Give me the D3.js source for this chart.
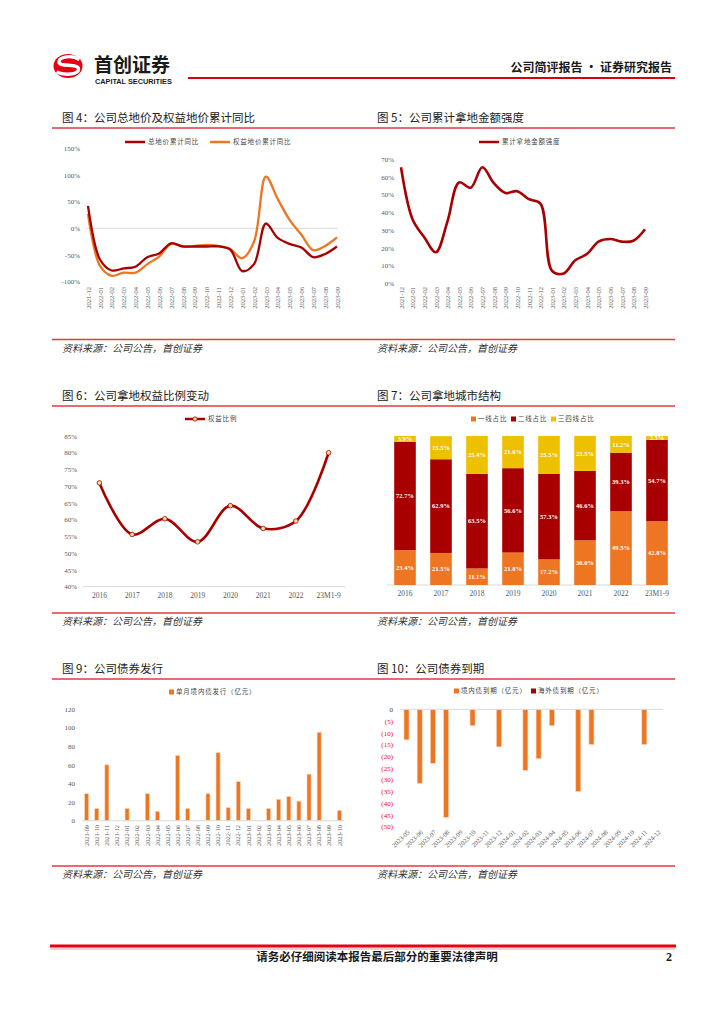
<!DOCTYPE html>
<html lang="zh">
<head>
<meta charset="UTF-8">
<title>首创证券 公司简评报告</title>
<script src="https://d3js.org/d3.v7.min.js"></script>
<style>
    body { margin: 0; background: #fff; }
    .num { font-family: "Liberation Serif", serif; fill: #595959; }
    .cn { font-family: "Noto Sans CJK SC", sans-serif; }
</style>
</head>
<body>
<script>
    // ---- data ----
    var months4 = ['2021-12', '2022-01', '2022-02', '2022-03', '2022-04', '2022-05', '2022-06',
                   '2022-07', '2022-08', '2022-09', '2022-10', '2022-11', '2022-12', '2023-01',
                   '2023-02', '2023-03', '2023-04', '2023-05', '2023-06', '2023-07', '2023-08', '2023-09']
    var totalYoY  = [42, -58, -79, -75, -72, -54, -47, -28, -34, -34, -34, -34, -40, -80, -67, 9, -18, -29, -36, -54, -48, -34]
    var equityYoY = [27, -70, -89, -83, -83, -67, -53, -29, -34, -33, -31, -33, -39, -56, -25, 97, 55, 16, -12, -41, -33, -17]
    var landIntensity = [65.5, 36, 26, 17.5, 35, 57, 54, 65.5, 56.5, 51, 52, 47.5, 45, 7, 5.5, 13, 16.5, 23.5, 25, 23.5, 24, 30.5]

    var years = ['2016', '2017', '2018', '2019', '2020', '2021', '2022', '23M1-9']
    var equityRatio = [71, 55.6, 60.3, 53.4, 64.2, 57.4, 59.6, 80]
    var tier1 = [23.4, 21.5, 11.1, 21.8, 17.2, 30.0, 49.5, 42.8]
    var tier2 = [72.7, 62.9, 63.5, 56.6, 57.3, 46.6, 39.3, 54.7]
    var tier34 = [3.9, 15.5, 25.4, 21.6, 25.5, 23.5, 11.2, 2.5]

    var months9 = ['2021-09', '2021-10', '2021-11', '2021-12', '2022-01', '2022-02', '2022-03', '2022-04',
                   '2022-05', '2022-06', '2022-07', '2022-08', '2022-09', '2022-10', '2022-11', '2022-12',
                   '2023-01', '2023-02', '2023-03', '2023-04', '2023-05', '2023-06', '2023-07', '2023-08',
                   '2023-09', '2023-10']
    var bondIssue = [29, 13, 60, 0, 13, 0, 29, 10, 0, 70, 13, 0, 29, 73, 14, 42, 13, 0, 13, 23, 26, 21, 50, 95, 0, 11]

    var months10 = ['2023-05', '2023-06', '2023-07', '2023-08', '2023-09', '2023-10', '2023-11', '2023-12',
                    '2024-01', '2024-02', '2024-03', '2024-04', '2024-05', '2024-06', '2024-07', '2024-08',
                    '2024-09', '2024-10', '2024-11', '2024-12']
    var domesticDue = [-13, -31.5, -23, -46, 0, -7, 0, -16, 0, -26, -21, -7, 0, -35, -15, 0, 0, 0, -15, 0]
    var overseasDue = [0, 0, 0, 0, 0, 0, 0, 0, 0, 0, 0, 0, 0, 0, 0, 0, 0, 0, 0, 0]

    var w = 724, h = 1024
    var darkRed = '#a80000', orange = '#ee7623', yellow = '#edc000'
    var ruleRed = '#e5393f', gridGray = '#d9d9d9'

    var svg = d3.select('body')
                .append('svg')
                .attr('width', w)
                .attr('height', h)

    // ---- page header ----
    svg.append('ellipse').attr('cx', 68).attr('cy', 66).attr('rx', 14.5).attr('ry', 12).attr('fill', '#e60012')
    svg.append('path')
        .attr('d', 'M79.5,59.5 C72,54.5 59,56.5 59,62 C59,67.5 78.5,63 78.5,69 C78.5,75 64,75.5 56.5,72')
        .attr('fill', 'none').attr('stroke', '#fff').attr('stroke-width', 3.4)
    svg.append('text').attr('class', 'cn').attr('x', 94).attr('y', 71.5)
        .attr('font-size', 19).attr('font-weight', 700).attr('fill', '#1a1a1a').text('首创证券')
    svg.append('text').attr('x', 95).attr('y', 84).style('font-family', 'Liberation Sans')
        .attr('font-size', 7.3).attr('font-weight', 700).attr('fill', '#1a1a1a').text('CAPITAL SECURITIES')
    svg.append('line').attr('x1', 188).attr('x2', 675).attr('y1', 78).attr('y2', 78)
        .attr('stroke', '#d7000f').attr('stroke-width', 2)
    svg.append('text').attr('class', 'cn').attr('x', 672).attr('y', 72).attr('text-anchor', 'end')
        .attr('font-size', 12).attr('font-weight', 700).attr('fill', '#1a1a1a').text('公司简评报告 · 证券研究报告')

    // ---- section titles and source lines ----
    function titleRow(y, left, right) {
        svg.append('text').attr('class', 'cn').attr('x', 62).attr('y', y + 4).attr('font-size', 11.5)
            .attr('fill', '#222').text(left)
        svg.append('text').attr('class', 'cn').attr('x', 377).attr('y', y + 4).attr('font-size', 11.5)
            .attr('fill', '#222').text(right)
        svg.append('line').attr('x1', 52).attr('x2', 675).attr('y1', y + 10).attr('y2', y + 10)
            .attr('stroke', ruleRed).attr('stroke-width', 1.3)
    }
    function sourceRow(y) {
        svg.append('line').attr('x1', 52).attr('x2', 675).attr('y1', y).attr('y2', y)
            .attr('stroke', ruleRed).attr('stroke-width', 1.3)
        ;[62, 377].forEach(function (x) {
            svg.append('text').attr('class', 'cn').attr('x', x).attr('y', y + 12).attr('font-size', 10)
                .attr('font-style', 'italic').attr('fill', '#333').text('资料来源：公司公告，首创证券')
        })
    }
    titleRow(118, '图 4：公司总地价及权益地价累计同比', '图 5：公司累计拿地金额强度')
    sourceRow(339.5)
    titleRow(396, '图 6：公司拿地权益比例变动', '图 7：公司拿地城市结构')
    sourceRow(613)
    titleRow(669, '图 9：公司债券发行', '图 10：公司债券到期')
    sourceRow(866)

    // footer
    svg.append('line').attr('x1', 50).attr('x2', 676).attr('y1', 946).attr('y2', 946)
        .attr('stroke', '#e60012').attr('stroke-width', 3)
    svg.append('line').attr('x1', 50).attr('x2', 676).attr('y1', 949).attr('y2', 949)
        .attr('stroke', '#f2a0a0').attr('stroke-width', 1)
    svg.append('text').attr('class', 'cn').attr('x', 377).attr('y', 961).attr('text-anchor', 'middle')
        .attr('font-size', 11.5).attr('font-weight', 700).attr('fill', '#1a1a1a')
        .text('请务必仔细阅读本报告最后部分的重要法律声明')
    svg.append('text').attr('x', 672).attr('y', 961).attr('text-anchor', 'end').style('font-family', 'Liberation Serif')
        .attr('font-size', 12).attr('font-weight', 700).attr('fill', '#1a1a1a').text('2')

    // ---- helpers ----
    function styleAxis(g, size) {
        g.select('.domain').remove()
        g.selectAll('text').attr('class', 'num').attr('font-size', size || 7)
    }
    function verticalLabels(g) {
        g.selectAll('text')
            .attr('x', 0).attr('y', 0).attr('dy', '0.35em')
            .attr('transform', 'rotate(-90)')
            .attr('text-anchor', 'end')
    }
    function legendLine(x, y, color, label, marker) {
        svg.append('line').attr('x1', x).attr('x2', x + 20).attr('y1', y).attr('y2', y)
            .attr('stroke', color).attr('stroke-width', 2.5)
        if (marker) {
            svg.append('circle').attr('cx', x + 10).attr('cy', y).attr('r', 2.2)
                .attr('fill', '#fcdf9b').attr('stroke', color).attr('stroke-width', 0.8)
        }
        svg.append('text').attr('class', 'cn').attr('x', x + 23).attr('y', y + 2.3).attr('font-size', 6.5)
            .attr('letter-spacing', 0.8).attr('fill', '#444').text(label)
    }
    function legendBox(x, y, color, label) {
        svg.append('rect').attr('x', x).attr('y', y - 2.5).attr('width', 5).attr('height', 5).attr('fill', color)
        svg.append('text').attr('class', 'cn').attr('x', x + 7).attr('y', y + 2.3).attr('font-size', 6.5)
            .attr('letter-spacing', 0.8).attr('fill', '#444').text(label)
    }
    var pct = function (d) { return d + '%' }

    // ---- 图4 ----
    var x4 = d3.scalePoint().domain(months4).range([88, 337])
    var y4 = d3.scaleLinear().domain([-100, 150]).range([281.7, 148.3])

    svg.append('line').attr('x1', 86).attr('x2', 338).attr('y1', y4(0)).attr('y2', y4(0))
        .attr('stroke', gridGray).attr('stroke-width', 1)
    svg.append('g').attr('transform', 'translate(83,0)')
        .call(d3.axisLeft(y4).tickValues([-100, -50, 0, 50, 100, 150]).tickSize(0).tickFormat(pct))
        .call(styleAxis)
    svg.append('g').attr('transform', 'translate(0,287)')
        .call(d3.axisBottom(x4).tickSize(0))
        .call(styleAxis, 6.5).call(verticalLabels)

    var line4 = d3.line()
                  .x(function (d, i) { return x4(months4[i]) })
                  .y(function (d) { return y4(d) })
                  .curve(d3.curveCatmullRom.alpha(0.5))
    svg.append('path').attr('d', line4(equityYoY)).attr('fill', 'none').attr('stroke', orange).attr('stroke-width', 2.3)
    svg.append('path').attr('d', line4(totalYoY)).attr('fill', 'none').attr('stroke', darkRed).attr('stroke-width', 2.3)
    legendLine(125, 142, darkRed, '总地价累计同比')
    legendLine(210, 142, orange, '权益地价累计同比')

    // ---- 图5 ----
    var x5 = d3.scalePoint().domain(months4).range([401, 645])
    var y5 = d3.scaleLinear().domain([0, 70]).range([283.3, 159.3])

    svg.append('g').attr('transform', 'translate(397,0)')
        .call(d3.axisLeft(y5).tickValues(d3.range(0, 71, 10)).tickSize(0).tickFormat(pct))
        .call(styleAxis)
    svg.append('g').attr('transform', 'translate(0,287)')
        .call(d3.axisBottom(x5).tickSize(0))
        .call(styleAxis, 6.5).call(verticalLabels)

    var line5 = d3.line()
                  .x(function (d, i) { return x5(months4[i]) })
                  .y(function (d) { return y5(d) })
                  .curve(d3.curveCatmullRom.alpha(0.5))
    svg.append('path').attr('d', line5(landIntensity)).attr('fill', 'none').attr('stroke', darkRed).attr('stroke-width', 2.6)
    legendLine(479, 142, darkRed, '累计拿地金额强度')

    // ---- 图6 ----
    var x6 = d3.scaleBand().domain(years).range([83, 345])
    var y6 = d3.scaleLinear().domain([40, 85]).range([586.7, 436])

    svg.append('line').attr('x1', 83).attr('x2', 345).attr('y1', y6(40)).attr('y2', y6(40))
        .attr('stroke', gridGray).attr('stroke-width', 1)
    svg.append('g').attr('transform', 'translate(80,0)')
        .call(d3.axisLeft(y6).tickValues(d3.range(40, 86, 5)).tickSize(0).tickFormat(pct))
        .call(styleAxis)
    svg.append('g').attr('transform', 'translate(0,586.7)')
        .call(d3.axisBottom(x6).tickSize(0).tickPadding(6))
        .call(styleAxis, 7.5)

    var cx6 = function (d, i) { return x6(years[i]) + x6.bandwidth() / 2 }
    var line6 = d3.line().x(cx6).y(function (d) { return y6(d) }).curve(d3.curveCatmullRom.alpha(0.5))
    svg.append('path').attr('d', line6(equityRatio)).attr('fill', 'none').attr('stroke', darkRed).attr('stroke-width', 2.6)
    svg.selectAll('.dot6')
        .data(equityRatio)
        .enter()
        .append('circle')
        .attr('class', 'dot6')
        .attr('cx', cx6)
        .attr('cy', function (d) { return y6(d) })
        .attr('r', 2.3)
        .attr('fill', '#fcdf9b')
        .attr('stroke', darkRed)
        .attr('stroke-width', 0.8)
    legendLine(185, 419, darkRed, '权益比例', true)

    // ---- 图7 ----
    var rows7 = years.map(function (y, i) { return { year: y, t1: tier1[i], t2: tier2[i], t34: tier34[i] } })
    var stack7 = d3.stack().keys(['t1', 't2', 't34'])(rows7)
    var colors7 = { t1: orange, t2: darkRed, t34: yellow }
    var x7 = d3.scaleBand().domain(years).range([387, 675]).paddingInner(0.4).paddingOuter(0.2)
    var y7 = d3.scaleLinear().domain([0, 100]).range([585, 436])

    svg.append('line').attr('x1', 387).attr('x2', 668).attr('y1', 585).attr('y2', 585)
        .attr('stroke', gridGray).attr('stroke-width', 1)
    svg.append('g').attr('transform', 'translate(0,585)')
        .call(d3.axisBottom(x7).tickSize(0).tickPadding(6))
        .call(styleAxis, 7.5)

    var layers7 = svg.selectAll('.layer7')
        .data(stack7)
        .enter()
        .append('g')
        .attr('class', 'layer7')
        .attr('fill', function (s) { return colors7[s.key] })
    layers7.selectAll('rect')
        .data(function (s) { return s })
        .enter()
        .append('rect')
        .attr('x', function (d) { return x7(d.data.year) })
        .attr('y', function (d) { return y7(d[1]) })
        .attr('width', x7.bandwidth())
        .attr('height', function (d) { return y7(d[0]) - y7(d[1]) })
    layers7.selectAll('text')
        .data(function (s) { return s.map(function (d) { return { d: d, key: s.key } }) })
        .enter()
        .append('text')
        .attr('x', function (o) { return x7(o.d.data.year) + x7.bandwidth() / 2 })
        .attr('y', function (o) { return (y7(o.d[0]) + y7(o.d[1])) / 2 + 2.2 })
        .attr('text-anchor', 'middle')
        .style('font-family', 'Liberation Serif')
        .attr('font-size', 6.5)
        .attr('font-weight', 700)
        .attr('fill', '#fff')
        .text(function (o) { return o.d.data[o.key].toFixed(1) + '%' })
    legendBox(471, 419, orange, '一线占比')
    legendBox(511, 419, darkRed, '二线占比')
    legendBox(551, 419, yellow, '三四线占比')

    // ---- 图9 ----
    var x9 = d3.scaleBand().domain(months9).range([81.6, 344.4]).paddingInner(0.6).paddingOuter(0.3)
    var y9 = d3.scaleLinear().domain([0, 120]).range([820.7, 709])

    svg.append('g').attr('transform', 'translate(78,0)')
        .call(d3.axisLeft(y9).tickValues(d3.range(0, 121, 20)).tickSize(0))
        .call(styleAxis)
    svg.selectAll('.bar9')
        .data(bondIssue)
        .enter()
        .append('rect')
        .attr('class', 'bar9')
        .attr('x', function (d, i) { return x9(months9[i]) })
        .attr('y', function (d) { return y9(d) })
        .attr('width', x9.bandwidth())
        .attr('height', function (d) { return y9(0) - y9(d) })
        .attr('fill', orange)
        .attr('stroke', '#fbd3b2')
        .attr('stroke-width', 0.6)
    svg.append('line').attr('x1', 82).attr('x2', 344).attr('y1', y9(0)).attr('y2', y9(0))
        .attr('stroke', gridGray).attr('stroke-width', 1)
    svg.append('g').attr('transform', 'translate(0,825)')
        .call(d3.axisBottom(x9).tickSize(0))
        .call(styleAxis, 6.3).call(verticalLabels)
    legendBox(169, 692, orange, '单月境内债发行（亿元）')

    // ---- 图10 ----
    var x10 = d3.scaleBand().domain(months10).range([400, 664]).paddingInner(0.62).paddingOuter(0.3)
    var y10 = d3.scaleLinear().domain([-50, 0]).range([826.7, 709.3])

    svg.append('g').attr('transform', 'translate(396,0)')
        .call(d3.axisLeft(y10).tickValues(d3.range(-50, 1, 5)).tickSize(0)
            .tickFormat(function (d) { return d === 0 ? '0' : '(' + (-d) + ')' }))
        .call(styleAxis)
        .selectAll('text')
        .style('fill', function (d) { return d === 0 ? '#404040' : '#ff0000' })
    svg.selectAll('.bar10')
        .data(domesticDue)
        .enter()
        .append('rect')
        .attr('class', 'bar10')
        .attr('x', function (d, i) { return x10(months10[i]) })
        .attr('y', y10(0))
        .attr('width', x10.bandwidth())
        .attr('height', function (d) { return y10(d) - y10(0) })
        .attr('fill', orange)
        .attr('stroke', '#fbd3b2')
        .attr('stroke-width', 0.6)
    svg.selectAll('.bar10b')
        .data(overseasDue)
        .enter()
        .append('rect')
        .attr('class', 'bar10b')
        .attr('x', function (d, i) { return x10(months10[i]) })
        .attr('y', y10(0))
        .attr('width', x10.bandwidth())
        .attr('height', function (d) { return y10(d) - y10(0) })
        .attr('fill', darkRed)
    svg.append('line').attr('x1', 400).attr('x2', 663).attr('y1', y10(0)).attr('y2', y10(0))
        .attr('stroke', gridGray).attr('stroke-width', 1)
    svg.append('g').attr('transform', 'translate(2,831)')
        .call(d3.axisBottom(x10).tickSize(0))
        .call(styleAxis, 6.5)
        .selectAll('text')
        .attr('x', 0).attr('y', 0).attr('dy', '0.35em')
        .attr('transform', 'rotate(-45)')
        .attr('text-anchor', 'end')
    legendBox(454, 691, orange, '境内债到期（亿元）')
    legendBox(531, 691, darkRed, '海外债到期（亿元）')
</script>
</body>
</html>
